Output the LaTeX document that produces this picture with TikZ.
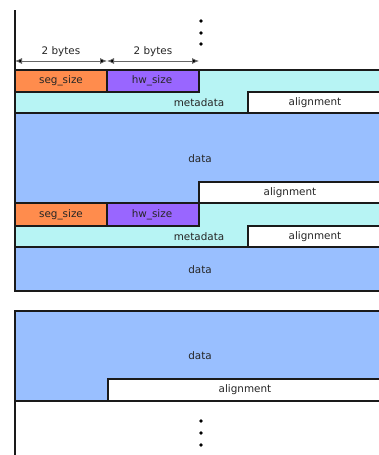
\documentclass[tikz,border=0pt]{standalone}
\usepackage{fontspec}
\setmainfont{DejaVu Sans}
\usetikzlibrary{arrows.meta}
\definecolor{segc}{RGB}{255,140,77}
\definecolor{hwc}{RGB}{153,102,255}
\definecolor{metac}{RGB}{183,244,244}
\definecolor{datac}{RGB}{153,191,255}
\definecolor{edge}{RGB}{26,26,26}
\begin{document}
\begin{tikzpicture}[x=1pt,y=-1pt,
  cell/.style={draw=edge,line width=1.1pt},
  lbl/.style={font=\fontsize{10.4}{12}\selectfont,text=black!85,inner sep=0pt},
  vdot/.style={circle,fill=black,inner sep=0pt,minimum size=3.8pt},
  dim/.style={draw=black!60,line width=0.8pt,
    {Latex[length=7pt,width=6pt,fill=black]}-{Latex[length=7pt,width=6pt,fill=black]}}]
\useasboundingbox (0,0) rectangle (379,455);
\clip (0,0) rectangle (379,455);

% continuation dots above the first segment
\node[vdot] (t1) at (201,21) {};
\node[vdot] (t2) at (201,33) {};
\node[vdot] (t3) at (201,44) {};

% field widths
\coordinate (d0) at (15,61);
\coordinate (d1) at (107,61);
\coordinate (d2) at (199,61);
\draw[dim] (d0) -- (d1);
\draw[dim] (d1) -- (d2);
\node[lbl] (w1) at (61,52) {2 bytes};
\node[lbl] (w2) at (153,52) {2 bytes};

% segment 1: header, metadata, data
\filldraw[cell,fill=metac] (15,70) -- (381,70) -- (381,92) -- (248,92) -- (248,113) -- (15,113) -- cycle;
\filldraw[cell,fill=white] (248,92) rectangle (381,113);
\filldraw[cell,fill=segc] (15,70) rectangle (107,92);
\filldraw[cell,fill=hwc] (107,70) rectangle (199,92);
\filldraw[cell,fill=datac] (15,113) -- (381,113) -- (381,182) -- (199,182) -- (199,203) -- (15,203) -- cycle;
\filldraw[cell,fill=white] (199,182) rectangle (381,203);
\node[lbl] (s1) at (61,81) {seg\_size};
\node[lbl] (h1) at (152,81) {hw\_size};
\node[lbl] (m1) at (199,103) {metadata};
\node[lbl] (a1) at (315,103) {alignment};
\node[lbl] (dt1) at (200,159) {data};
\node[lbl] (a2) at (290,193) {alignment};

% segment 2
\filldraw[cell,fill=metac] (15,203) -- (381,203) -- (381,226) -- (248,226) -- (248,247) -- (15,247) -- cycle;
\filldraw[cell,fill=white] (248,226) rectangle (381,247);
\filldraw[cell,fill=segc] (15,203) rectangle (107,226);
\filldraw[cell,fill=hwc] (107,203) rectangle (199,226);
\filldraw[cell,fill=datac] (15,247) rectangle (381,291);
\node[lbl] (s2) at (61,215) {seg\_size};
\node[lbl] (h2) at (152,215) {hw\_size};
\node[lbl] (m2) at (199,237) {metadata};
\node[lbl] (a3) at (315,237) {alignment};
\node[lbl] (dt2) at (200,270) {data};

% last segment
\filldraw[cell,fill=datac] (15,311) -- (381,311) -- (381,379) -- (108,379) -- (108,401) -- (15,401) -- cycle;
\filldraw[cell,fill=white] (108,379) rectangle (381,401);
\node[lbl] (dt3) at (200,356) {data};
\node[lbl] (a4) at (245,390) {alignment};

% continuation dots below
\node[vdot] (b1) at (201,421) {};
\node[vdot] (b2) at (201,433) {};
\node[vdot] (b3) at (201,445) {};

% left boundary of the address space
\draw[draw=edge,line width=1.1pt] (15,10) -- (15,291);
\draw[draw=edge,line width=1.1pt] (15,311) -- (15,456);
\end{tikzpicture}
\end{document}
